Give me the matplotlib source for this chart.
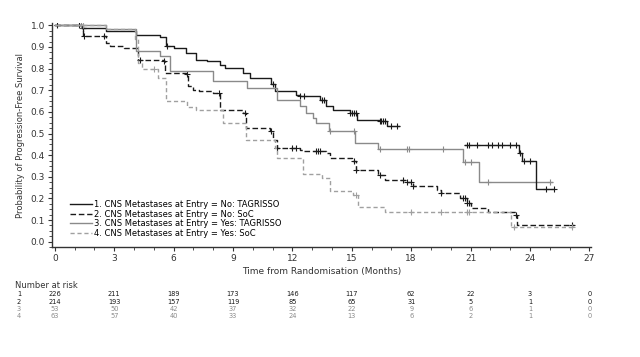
import matplotlib
matplotlib.use('Agg')
import matplotlib.pyplot as plt
from matplotlib.ticker import MultipleLocator
import numpy as np

# KM step data (time in months, survival probability)
t1 = [0, 1.35, 2.6, 4.1, 5.3, 5.6, 6.0, 6.65, 7.15, 7.7, 8.33, 8.6, 9.5, 9.85,
      10.9, 11.1, 12.2, 12.4, 13.4, 13.7, 14.05, 14.9, 15.25, 16.4, 16.8, 17.4]
s1 = [1.0, 0.989, 0.975, 0.955, 0.945, 0.905, 0.897, 0.872, 0.842, 0.834, 0.815,
      0.804, 0.78, 0.757, 0.727, 0.695, 0.68, 0.672, 0.657, 0.626, 0.61, 0.595,
      0.564, 0.556, 0.535, 0.535]
t1b = [20.7, 23.45, 23.6, 24.3, 25.2]
s1b = [0.448, 0.41, 0.372, 0.245, 0.245]

t2 = [0, 1.35, 1.43, 2.6, 2.78, 3.5, 4.2, 5.5, 5.56, 6.65, 6.73, 7.0, 7.3, 8.0,
      8.33, 9.5, 9.68, 10.86, 11.0, 11.2, 12.37, 12.6, 13.7, 13.9, 15.0, 15.2,
      16.3, 16.7, 17.7, 18.1, 19.3, 19.5, 20.45, 20.8, 21.0, 21.9, 23.25, 23.35, 26.2]
s2 = [1.0, 0.989, 0.95, 0.917, 0.904, 0.895, 0.842, 0.834, 0.781, 0.773, 0.719,
      0.70, 0.695, 0.688, 0.61, 0.595, 0.526, 0.51, 0.471, 0.433, 0.425, 0.417,
      0.41, 0.386, 0.371, 0.332, 0.309, 0.286, 0.278, 0.255, 0.240, 0.224, 0.201,
      0.178, 0.155, 0.139, 0.124, 0.077, 0.077]

t3 = [0, 2.6, 4.1, 5.3, 5.8, 8.0, 9.7, 11.2, 12.37, 12.7, 13.05, 13.2, 13.85,
      15.15, 16.3, 20.6, 21.45, 25.1]
s3 = [1.0, 0.985, 0.881, 0.858, 0.788, 0.742, 0.711, 0.657, 0.626, 0.595, 0.572,
      0.549, 0.51, 0.456, 0.43, 0.37, 0.275, 0.275]

t4 = [0, 2.6, 4.04, 4.2, 4.38, 5.2, 5.6, 6.7, 7.15, 8.5, 9.68, 11.1, 11.2, 12.54,
      13.5, 13.9, 15.05, 15.3, 16.7, 23.06, 26.2]
s4 = [1.0, 0.981, 0.935, 0.827, 0.80, 0.757, 0.649, 0.623, 0.61, 0.549, 0.471,
      0.433, 0.386, 0.315, 0.294, 0.235, 0.217, 0.162, 0.139, 0.067, 0.067]

# censoring times
cens1 = [0.1, 1.2, 1.4, 5.65, 11.0, 12.4, 12.6, 13.5, 13.6, 14.9, 15.0, 15.1, 15.2,
         16.4, 16.5, 16.6, 16.7, 17.0, 17.3]
cens1b = [20.8, 20.9, 21.3, 21.9, 22.1, 22.4, 22.6, 23.0, 23.3, 23.5, 23.7, 24.0,
          24.8, 25.2]
cens2 = [1.4, 1.45, 2.5, 4.3, 5.5, 6.7, 8.3, 9.6, 10.9, 11.2, 12.0, 12.2, 13.2,
         13.3, 13.4, 15.1, 15.2, 16.4, 17.6, 17.8, 18.0, 18.1, 19.5, 20.6, 20.7,
         20.8, 20.9, 23.3, 26.1]
cens3 = [1.3, 13.9, 15.1, 16.4, 17.8, 17.9, 19.6, 20.7, 21.0, 21.9, 25.0]
cens4 = [1.4, 5.0, 15.2, 18.0, 19.5, 20.8, 20.9, 23.2, 26.1]

labels = ['1. CNS Metastases at Entry = No: TAGRISSO',
          '2. CNS Metastases at Entry = No: SoC',
          '3. CNS Metastases at Entry = Yes: TAGRISSO',
          '4. CNS Metastases at Entry = Yes: SoC']

risk_times = [0, 3, 6, 9, 12, 15, 18, 21, 24, 27]
risk1 = [226, 211, 189, 173, 146, 117, 62, 22, 3, 0]
risk2 = [214, 193, 157, 119, 85, 65, 31, 5, 1, 0]
risk3 = [53, 50, 42, 37, 32, 22, 9, 6, 1, 0]
risk4 = [63, 57, 40, 33, 24, 13, 6, 2, 1, 0]

BLACK = '#1a1a1a'
GRAY = '#8a8a8a'
LGRAY = '#a0a0a0'


def cens_y(t, s, c):
    idx = np.searchsorted(t, c, side='right') - 1
    return np.asarray(s)[idx]


fig = plt.figure(figsize=(6.4, 3.57), dpi=100)
ax = fig.add_axes([0.081, 0.308, 0.843, 0.627])

styles = [
    (t1, s1, cens1, dict(color=BLACK, lw=1.0, ls='-')),
    (t2, s2, cens2, dict(color=BLACK, lw=1.0, ls=(0, (4, 2)))),
    (t3, s3, cens3, dict(color=GRAY, lw=1.0, ls='-')),
    (t4, s4, cens4, dict(color=LGRAY, lw=1.0, ls=(0, (3, 2)))),
]
for (t, s, c, st), lab in zip(styles, labels):
    ax.step(t, s, where='post', label=lab, **st)
    ax.plot(c, cens_y(t, s, c), ls='none', marker='+', ms=5, mew=0.8,
            color=st['color'])

# second piece of curve 1
ax.step(t1b, s1b, where='post', color=BLACK, lw=1.0)
ax.plot(cens1b, cens_y(t1b, s1b, cens1b), ls='none', marker='+', ms=5, mew=0.8,
        color=BLACK)

ax.set_xlim(-0.15, 27.1)
ax.set_ylim(-0.025, 1.01)
ax.set_xticks(risk_times)
ax.set_yticks(np.arange(0, 1.01, 0.1))
ax.set_yticklabels([f'{v:.1f}' for v in np.arange(0, 1.01, 0.1)])
ax.xaxis.set_minor_locator(MultipleLocator(1))
ax.yaxis.set_minor_locator(MultipleLocator(0.025))
ax.tick_params(axis='both', which='major', labelsize=6.5, length=3, width=0.8,
               colors='#333333', pad=2)
ax.tick_params(axis='both', which='minor', length=2, width=0.6, colors='#333333')
for side in ('top', 'right'):
    ax.spines[side].set_visible(False)
for side in ('left', 'bottom'):
    ax.spines[side].set_color('#333333')
    ax.spines[side].set_linewidth(1.0)

ax.set_ylabel('Probability of Progression-Free Survival', fontsize=6, color='#333333',
              labelpad=4)
ax.set_xlabel('Time from Randomisation (Months)', fontsize=6.5, color='#333333',
              labelpad=3)

ax.legend(loc='lower left', bbox_to_anchor=(0.025, 0.02), fontsize=6,
          frameon=False, handlelength=2.6, handletextpad=0.3, labelspacing=0.05,
          borderaxespad=0.2)

# number at risk table
fig.text(15 / 640, 1 - 286 / 357, 'Number at risk', fontsize=6, color='#333333',
         va='center', ha='left')
rows = [risk1, risk2, risk3, risk4]
row_colors = [BLACK, BLACK, GRAY, GRAY]
row_y = [294, 301.5, 309, 316.5]
for i, (vals, col, py) in enumerate(zip(rows, row_colors, row_y)):
    fig.text(19 / 640, 1 - py / 357, str(i + 1), fontsize=4.8, color=col,
             va='center', ha='center')
    for t, v in zip(risk_times, vals):
        xf = ax.transData.transform((t, 0))[0] / fig.bbox.width
        fig.text(xf, 1 - py / 357, str(v), fontsize=4.8, color=col,
                 va='center', ha='center')

fig.savefig('out.png', dpi=100, facecolor='white')
